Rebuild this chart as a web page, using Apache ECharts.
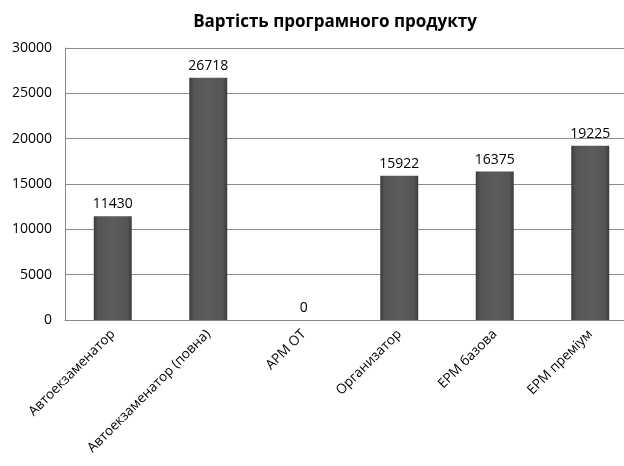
<!DOCTYPE html>
<html>
<head>
<meta charset="utf-8">
<script src="https://cdn.jsdelivr.net/npm/echarts@6/dist/echarts.min.js"></script>
<style>
  html, body { margin: 0; padding: 0; background: #fff; }
  #chart { width: 624px; height: 466px; }
</style>
</head>
<body>
<div id="chart"></div>
<script>
const categories = ['Автоекзаменатор', 'Автоекзаменатор (повна)', 'АРМ ОТ', 'Организатор', 'ЕРМ базова', 'ЕРМ преміум']
const prices = [11430, 26718, 0, 15922, 16375, 19225]
const yTicks = [0, 5000, 10000, 15000, 20000, 25000, 30000]

const chart = echarts.init(document.getElementById('chart'))

const barColor = new echarts.graphic.LinearGradient(0, 0, 1, 0, [
  { offset: 0, color: '#3c3c3c' },
  { offset: 0.12, color: '#555555' },
  { offset: 0.5, color: '#5c5c5c' },
  { offset: 0.88, color: '#555555' },
  { offset: 1, color: '#3c3c3c' },
])

chart.setOption({
  animation: false,
  title: {
    text: 'Вартість програмного продукту',
    left: 330,
    textAlign: 'center',
    top: 9,
    textStyle: { fontFamily: 'Open Sans', fontSize: 17, fontWeight: 'bold', color: '#000' },
  },
  grid: {
    left: 65,
    top: 48,
    width: 573,
    height: 272,
    outerBoundsMode: 'none',
  },
  xAxis: {
    type: 'category',
    data: categories,
    axisLine: { lineStyle: { color: '#888', width: 1 } },
    axisTick: { show: false },
    axisLabel: {
      rotate: 45,
      interval: 0,
      margin: 12,
      color: '#000',
      fontFamily: 'Open Sans',
      fontSize: 13.5,
    },
  },
  yAxis: {
    type: 'value',
    min: yTicks[0],
    max: yTicks[yTicks.length - 1],
    interval: 5000,
    axisLine: { show: true, lineStyle: { color: '#888', width: 1 } },
    axisTick: { show: false },
    splitLine: { lineStyle: { color: '#8c8c8c', width: 1 } },
    axisLabel: {
      margin: 13,
      color: '#000',
      fontFamily: 'Open Sans',
      fontSize: 14,
      formatter: (v) => String(v),
    },
  },
  series: [
    {
      type: 'bar',
      data: prices,
      barWidth: 38,
      itemStyle: {
        color: barColor,
      },
      label: {
        show: true,
        position: 'top',
        distance: 5,
        color: '#000',
        fontFamily: 'Open Sans',
        fontSize: 14,
      },
    },
  ],
})
</script>
</body>
</html>
